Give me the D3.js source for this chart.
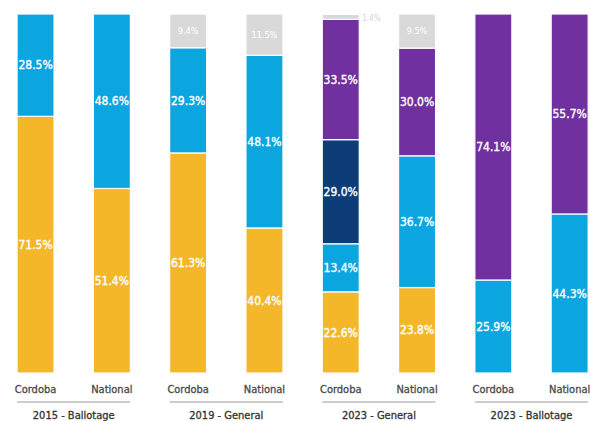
<!DOCTYPE html>
<html><head><meta charset="utf-8">
<script src="https://cdn.jsdelivr.net/npm/d3@7"></script>
<style>body{margin:0;background:#fff}</style>
</head><body>
<svg id="c" width="590" height="421"></svg>
<script>
const groups = ["2015 - Ballotage", "2019 - General", "2023 - General", "2023 - Ballotage"];
const places = ["Cordoba", "National"];
const seriesKeys = ["yellow", "blue", "navy", "purple", "gray"];
const seriesColors = ["#F5B72A", "#0BA6DF", "#0D3D79", "#7030A0", "#D9D9D9"];
// values per bar in order: yellow, blue, navy, purple, gray
const yellowVals = [71.5, 51.4, 61.3, 40.4, 22.6, 23.8, 0, 0];
const blueVals   = [28.5, 48.6, 29.3, 48.1, 13.4, 36.7, 25.9, 44.3];
const navyVals   = [0, 0, 0, 0, 29.0, 0, 0, 0];
const purpleVals = [0, 0, 0, 0, 33.5, 30.0, 74.1, 55.7];
const grayVals   = [0, 0, 9.4, 11.5, 1.4, 9.5, 0, 0];

const bars = [];
groups.forEach((g, gi) => places.forEach((p, pi) => bars.push({id: gi*2+pi, group: g, place: p})));
const valArrays = [yellowVals, blueVals, navyVals, purpleVals, grayVals];
const rows = bars.map(b => {
  const r = {id: b.id};
  seriesKeys.forEach((k, i) => r[k] = valArrays[i][b.id]);
  return r;
});
const stack = d3.stack().keys(seriesKeys)(rows);

const svg = d3.select("#c");
const x = d3.scaleBand().domain(bars.map(b => b.id)).range([-2.6, 607.8]).paddingInner(0.515).paddingOuter(0.2575);
const y = d3.scaleLinear().domain([0, 100]).range([373, 14]);
const font = "'DejaVu Sans Condensed', 'DejaVu Sans', sans-serif";

stack.forEach((layer, li) => {
  const gL = svg.append("g");
  layer.forEach((d, i) => {
    const v = d[1] - d[0];
    if (v <= 0) return;
    gL.append("rect")
      .attr("x", x(i)).attr("width", x.bandwidth())
      .attr("y", y(d[1])).attr("height", y(d[0]) - y(d[1]))
      .attr("fill", seriesColors[li])
      .attr("stroke", "#fff").attr("stroke-width", 1.2);
    const small = v < 5;
    const col = small ? "#D5D5D5" : "#fff";
    gL.append("text")
      .attr("x", small ? x(i) + x.bandwidth() + 3 : x(i) + x.bandwidth()/2)
      .attr("y", small ? y(d[1]) + 4 : (y(d[0]) + y(d[1]))/2)
      .attr("dy", "0.35em")
      .attr("text-anchor", small ? "start" : "middle")
      .attr("fill", col)
      .attr("stroke", small || seriesKeys[li] === "gray" ? "none" : col)
      .attr("stroke-width", 0.35)
      .attr("font-family", font)
      .attr("font-size", small ? 8 : (seriesKeys[li] === "gray" ? 9 : 12))
      .text(v.toFixed(1) + "%");
  });
});

// category labels
bars.forEach(b => {
  svg.append("text").attr("x", x(b.id) + x.bandwidth()/2).attr("y", 393)
    .attr("text-anchor", "middle").attr("font-family", font).attr("font-size", 11)
    .attr("fill", "#4a4a4a").attr("stroke", "#4a4a4a").attr("stroke-width", 0.3)
    .text(b.place);
});
groups.forEach((g, gi) => {
  const x0 = x(gi*2), x1 = x(gi*2+1) + x.bandwidth();
  svg.append("line").attr("x1", x0).attr("x2", x1).attr("y1", 402).attr("y2", 402)
    .attr("stroke", "#BDBDBD").attr("stroke-width", 1.5);
  svg.append("text").attr("x", (x0 + x1)/2).attr("y", 419)
    .attr("text-anchor", "middle").attr("font-family", font).attr("font-size", 11)
    .attr("fill", "#333").attr("stroke", "#333").attr("stroke-width", 0.3)
    .text(g);
});
</script>
</body></html>
